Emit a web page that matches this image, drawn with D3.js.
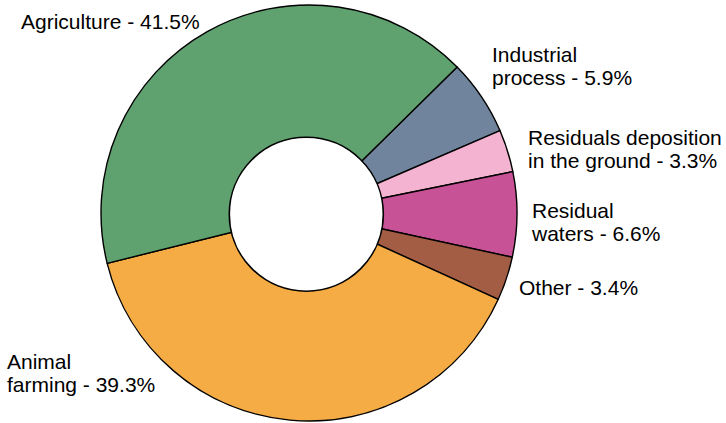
<!DOCTYPE html>
<html><head><meta charset="utf-8">
<script src="https://cdn.jsdelivr.net/npm/d3@7"></script>
<style>body{margin:0;background:#fff}svg{display:block}</style>
</head><body>
<script>
const categories = ["Industrial process", "Residuals deposition in the ground", "Residual waters", "Other", "Animal farming", "Agriculture"];
const values = [5.9, 3.3, 6.6, 3.4, 39.3, 41.5];
const colors = ["#71849d", "#f4b3d1", "#c75296", "#a45d45", "#f5ac45", "#5fa16f"];
const labelLines = [
  ["Industrial", "process - 5.9%"],
  ["Residuals deposition", "in the ground - 3.3%"],
  ["Residual", "waters - 6.6%"],
  ["Other - 3.4%"],
  ["Animal", "farming - 39.3%"],
  ["Agriculture - 41.5%"]
];
const labelPos = [[492, 62], [528, 145], [532, 218], [519, 295], [7, 369], [21, 29]];

const W = 726, H = 423;
const svg = d3.select("body").append("svg").attr("width", W).attr("height", H);
const cx = 309, cy = 213, R = 208;
const start = 45.4 * Math.PI / 180;
const pie = d3.pie().sort(null).startAngle(start).endAngle(start + 2 * Math.PI);
const arc = d3.arc().innerRadius(0).outerRadius(R);
const g = svg.append("g").attr("transform", `translate(${cx},${cy})`);
g.selectAll("path").data(pie(values)).join("path")
  .attr("d", arc)
  .attr("fill", (d, i) => colors[i])
  .attr("stroke", "#000").attr("stroke-width", 1.4).attr("stroke-linejoin", "round");
svg.append("circle").attr("cx", 306.3).attr("cy", 214.2).attr("r", 77)
  .attr("fill", "#fff").attr("stroke", "#000").attr("stroke-width", 1.6);

const lab = svg.append("g").attr("font-family", "Liberation Sans, Arial, sans-serif").attr("font-size", 21).attr("fill", "#000");
labelLines.forEach((lines, i) => {
  const t = lab.append("text").attr("x", labelPos[i][0]).attr("y", labelPos[i][1]);
  lines.forEach((s, j) => t.append("tspan").attr("x", labelPos[i][0]).attr("dy", j === 0 ? 0 : 23).text(s));
});
</script>
</body></html>
